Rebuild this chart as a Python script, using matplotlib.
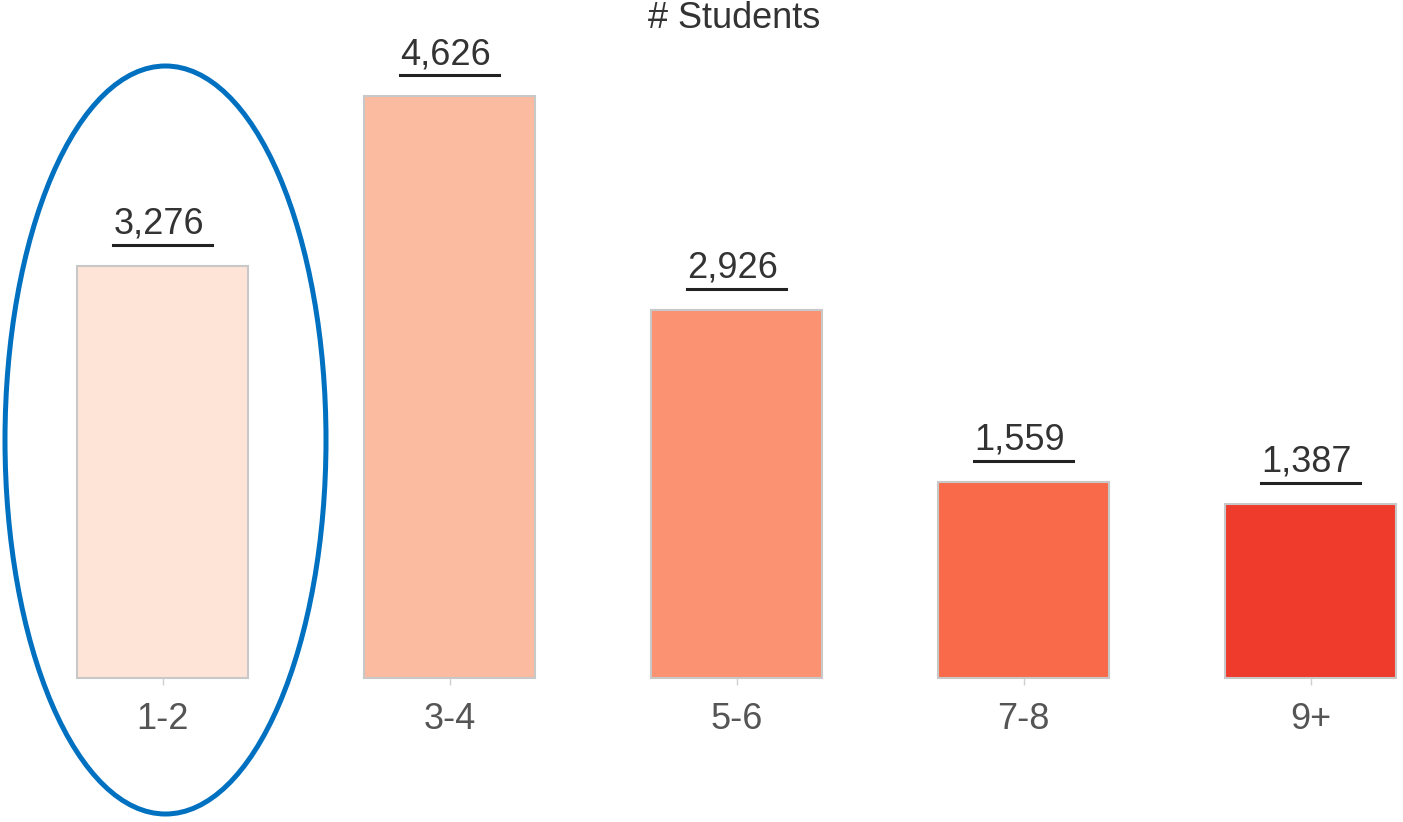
import matplotlib
matplotlib.use("Agg")
import matplotlib.pyplot as plt
from matplotlib.patches import Ellipse
from matplotlib.lines import Line2D

categories = ["1-2", "3-4", "5-6", "7-8", "9+"]
students = [3276, 4626, 2926, 1559, 1387]
colors = ["#fee3d7", "#fbbba0", "#fb9272", "#f96a4b", "#ee3b2c"]
title = "# Students"

plt.rcParams['font.family'] = ['Liberation Sans', 'DejaVu Sans']

W, H = 1403, 822
fig = plt.figure(figsize=(W / 100, H / 100), dpi=100)
ax = fig.add_axes([0, 0, 1, 1])

# pixel layout
x0_px, step_px = 162.5, 287.0
base_px, scale = 678.0, 0.1258
ax.set_xlim(-x0_px / step_px, (W - x0_px) / step_px)
ax.set_ylim(-(H - base_px) / scale, base_px / scale)

xs = list(range(len(categories)))
ax.bar(xs, students, width=0.597, color=colors, edgecolor="#c8c8c8", linewidth=1.5)

for s in ax.spines.values():
    s.set_visible(False)
ax.set_yticks([])
ax.set_xticks(xs)
ax.set_xticklabels(categories)
ax.tick_params(axis='x', length=5, width=1, color="#cfcfcf", pad=12,
               labelsize=26, labelcolor="#555555", direction='out')
ax.spines['bottom'].set_position(('data', 0))

fig.text(734 / W, 1 - 19 / H, title, ha='center', va='center', fontsize=26, color="#333333")

texts = []
for x, v in zip(xs, students):
    t = ax.annotate(f"{v:,}", xy=(x, v), xytext=(-4, 32), textcoords='offset pixels',
                    ha='center', va='baseline', fontsize=26, color="#333333")
    texts.append(t)

fig.canvas.draw()
r = fig.canvas.get_renderer()
for t in texts:
    bb = t.get_window_extent(r)
    y = bb.y0 - 3
    fig.add_artist(Line2D([bb.x0, bb.x1 + 8], [y, y], transform=None,
                          color="#222222", linewidth=2.2))

ell = Ellipse((165.5 / W, 1 - 440 / H), 321 / W, 748 / H, transform=fig.transFigure,
              fill=False, edgecolor="#0070c0", linewidth=3.6)
fig.add_artist(ell)

fig.savefig("out.png", dpi=100, facecolor="white")
